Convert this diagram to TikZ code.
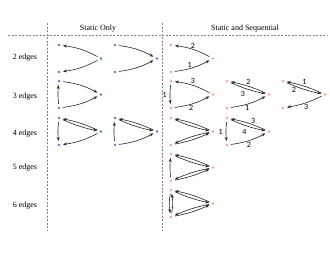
\documentclass[tikz,border=0pt]{standalone}
\usepackage{fontspec}
\newfontfamily\numfont{Carlito}
\newfontfamily\headfont{Liberation Serif}
\usetikzlibrary{arrows.meta}
\definecolor{dotblue}{RGB}{79,129,189}
\definecolor{dotorange}{RGB}{244,162,128}
\tikzset{
  vtx/.style={circle, inner sep=0pt, minimum size=2.8pt, outer sep=2.6pt},
  bdot/.style={vtx, fill=dotblue},
  odot/.style={vtx, fill=dotorange},
  link/.style={-{Stealth[length=4pt,width=3pt]}, line width=0.6pt, draw=black!85},
  lbl/.style={font=\numfont\fontsize{8}{9}\selectfont, inner sep=1pt},
  divider/.style={draw=gray, dash pattern=on 2pt off 1.5pt, line width=0.45pt},
  colhead/.style={font=\headfont\fontsize{8}{9}\selectfont, inner sep=0pt}
}
\begin{document}
\begin{tikzpicture}[x=1pt, y=1pt]
\useasboundingbox (0,0) rectangle (330,-255);
% table frame
\coordinate (hl) at (8,-35);
\coordinate (hr) at (327,-35);
\coordinate (v1t) at (47,-23);
\coordinate (v1b) at (47,-230);
\coordinate (v2t) at (162,-23);
\coordinate (v2b) at (162,-230);
\draw[divider] (hl) -- (hr);
\draw[divider] (v1t) -- (v1b);
\draw[divider] (v2t) -- (v2b);
\node[colhead] (hstat) at (98,-29) {Static Only};
\node[colhead] (hseq) at (245,-29) {Static and Sequential};
\node[colhead] (r2) at (25,-58) {2 edges};
\node[colhead] (r3) at (25,-97) {3 edges};
\node[colhead] (r4) at (25,-134) {4 edges};
\node[colhead] (r5) at (25,-168) {5 edges};
\node[colhead] (r6) at (25,-206) {6 edges};
% static only
\node[bdot] (s1t) at (59,-45) {};
\node[bdot] (s1r) at (101,-58.5) {};
\node[bdot] (s1b) at (59,-72) {};
\draw[link] (s1r) to[bend right=10] (s1t);
\draw[link] (s1r) to[bend left=10] (s1b);
\node[bdot] (s2t) at (115,-45) {};
\node[bdot] (s2r) at (157,-58.5) {};
\node[bdot] (s2b) at (115,-72) {};
\draw[link] (s2t) to[bend left=10] (s2r);
\draw[link] (s2b) to[bend right=10] (s2r);
\node[bdot] (s3t) at (59,-81) {};
\node[bdot] (s3r) at (101,-94.5) {};
\node[bdot] (s3b) at (59,-108) {};
\draw[link] (s3t) to[bend left=10] (s3r);
\draw[link] (s3b) to[bend right=10] (s3r);
\draw[link] (s3b) to[bend left=6] (s3t);
\node[bdot] (s4t) at (59,-118) {};
\node[bdot] (s4r) at (101,-131.5) {};
\node[bdot] (s4b) at (59,-145) {};
\draw[link] (s4t) to[bend right=6] (s4b);
\draw[link] (s4r) to[bend right=6] (s4t);
\draw[link] (s4t) to[bend right=6] (s4r);
\draw[link] (s4r) to[bend left=10] (s4b);
\node[bdot] (s5t) at (115,-118) {};
\node[bdot] (s5r) at (157,-131.5) {};
\node[bdot] (s5b) at (115,-145) {};
\draw[link] (s5b) to[bend left=6] (s5t);
\draw[link] (s5r) to[bend right=6] (s5t);
\draw[link] (s5t) to[bend right=6] (s5r);
\draw[link] (s5b) to[bend right=10] (s5r);
% static and sequential
\node[odot] (q1t) at (171,-45) {};
\node[odot] (q1r) at (213,-58.5) {};
\node[odot] (q1b) at (171,-72) {};
\draw[link] (q1b) to[bend right=10] node[lbl, pos=0.4, above] {1} (q1r);
\draw[link] (q1r) to[bend right=10] node[lbl, above] {2} (q1t);
\node[odot] (q2t) at (171,-81) {};
\node[odot] (q2r) at (213,-94.5) {};
\node[odot] (q2b) at (171,-108) {};
\draw[link] (q2t) to[bend right=6] node[lbl, left=2pt] {1} (q2b);
\draw[link] (q2b) to[bend right=10] node[lbl, pos=0.45, below] {2} (q2r);
\draw[link] (q2r) to[bend right=10] node[lbl, above] {3} (q2t);
\node[odot] (q3t) at (227,-81) {};
\node[odot] (q3r) at (269,-94.5) {};
\node[odot] (q3b) at (227,-108) {};
\draw[link] (q3b) to[bend right=10] node[lbl, pos=0.45, below] {1} (q3r);
\draw[link] (q3r) to[bend right=6] node[lbl, above] {2} (q3t);
\draw[link] (q3t) to[bend right=6] node[lbl, pos=0.35, below=2pt] {3} (q3r);
\node[odot] (q4t) at (283,-81) {};
\node[odot] (q4r) at (325,-94.5) {};
\node[odot] (q4b) at (283,-108) {};
\draw[link] (q4r) to[bend right=6] node[lbl, above] {1} (q4t);
\draw[link] (q4t) to[bend right=6] node[lbl, pos=0.2, below] {2} (q4r);
\draw[link] (q4r) to[bend left=8] node[lbl, pos=0.45, below] {3} (q4b);
\node[odot] (q5t) at (171,-118) {};
\node[odot] (q5r) at (213,-131.5) {};
\node[odot] (q5b) at (171,-145) {};
\draw[link] (q5r) to[bend right=6] (q5t);
\draw[link] (q5t) to[bend right=6] (q5r);
\draw[link] (q5b) to[bend right=6] (q5r);
\draw[link] (q5r) to[bend right=6] (q5b);
\node[odot] (q6t) at (227,-118) {};
\node[odot] (q6r) at (269,-131.5) {};
\node[odot] (q6b) at (227,-145) {};
\draw[link] (q6t) to[bend right=6] node[lbl, left=2pt] {1} (q6b);
\draw[link] (q6b) to[bend right=10] node[lbl, below] {2} (q6r);
\draw[link] (q6r) to[bend right=6] node[lbl, pos=0.35, above] {3} (q6t);
\draw[link] (q6t) to[bend right=6] node[lbl, pos=0.4, below=3pt] {4} (q6r);
\node[odot] (q7t) at (171,-154) {};
\node[odot] (q7r) at (213,-167.5) {};
\node[odot] (q7b) at (171,-181) {};
\draw[link] (q7b) to[bend left=6] (q7t);
\draw[link] (q7r) to[bend right=6] (q7t);
\draw[link] (q7t) to[bend right=6] (q7r);
\draw[link] (q7b) to[bend right=6] (q7r);
\draw[link] (q7r) to[bend right=6] (q7b);
\node[odot] (q8t) at (171,-190) {};
\node[odot] (q8r) at (213,-203.5) {};
\node[odot] (q8b) at (171,-217) {};
\draw[link] (q8t) to[bend right=10] (q8b);
\draw[link] (q8b) to[bend right=10] (q8t);
\draw[link] (q8r) to[bend right=6] (q8t);
\draw[link] (q8t) to[bend right=6] (q8r);
\draw[link] (q8b) to[bend right=6] (q8r);
\draw[link] (q8r) to[bend right=6] (q8b);
\end{tikzpicture}
\end{document}
